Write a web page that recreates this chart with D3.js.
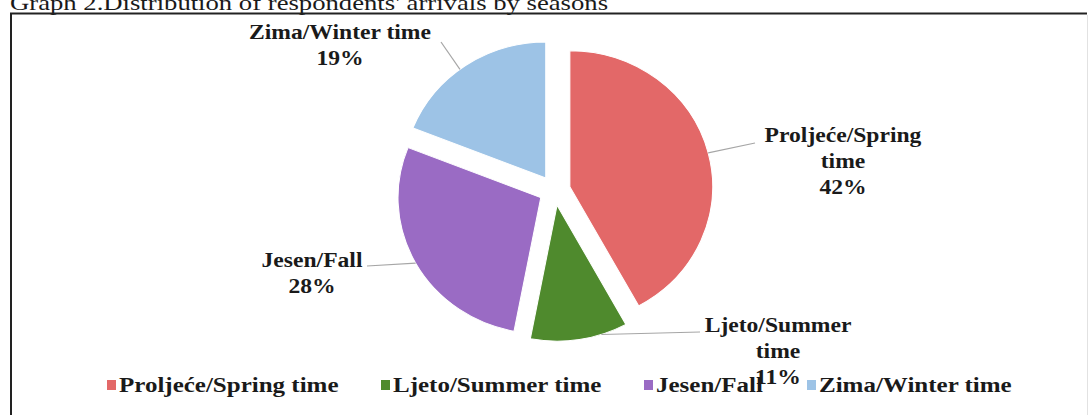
<!DOCTYPE html>
<html>
<head>
<meta charset="utf-8">
<script src="https://cdn.jsdelivr.net/npm/d3@7"></script>
<style>
  html, body { margin: 0; padding: 0; background: #fff; }
  svg { display: block; }
  text { font-family: "Liberation Serif", "Times New Roman", serif; fill: #1a1a1a; }
</style>
</head>
<body>
<svg id="chart" width="1089" height="415"></svg>
<script>
// Seasons of arrival and their share of respondents (%)
const categories = ["Proljeće/Spring time", "Ljeto/Summer time", "Jesen/Fall", "Zima/Winter time"];
const shares = [42, 11, 28, 19];
const labelNames = [["Proljeće/Spring", "time"], ["Ljeto/Summer", "time"], ["Jesen/Fall"], ["Zima/Winter time"]];
const colors = ["#e36868", "#4f8a2d", "#9a6bc4", "#9dc3e6"];
const titleText = "Graph 2.Distribution of respondents' arrivals by seasons";

const svg = d3.select("#chart");
const W = 1089, H = 415;
const STRETCH = 1.18;

// title above the framed chart area
svg.append("text")
  .attr("transform", `translate(10,10) scale(1.27,1)`)
  .style("font-size", "21px")
  .text(titleText);

// chart frame (right edge falls on the page margin and is faint)
svg.append("path")
  .attr("d", `M11,${H + 2} L11,13.5 L1087,13.5`)
  .attr("fill", "none")
  .attr("stroke", "#222")
  .attr("stroke-width", 2);
svg.append("line")
  .attr("x1", 1087.5).attr("y1", 15).attr("x2", 1087.5).attr("y2", H)
  .attr("stroke", "#e2e2e2").attr("stroke-width", 1);

// pie layout, first slice starting at 12 o'clock, clockwise; slightly wide
const cx = 554.6, cy = 190.4, R = 136, explode = 15, sx = 1.05;
const pie = d3.pie().sort(null).value(d => d).startAngle(0).endAngle(2 * Math.PI);
const arcs = pie(shares);
const arc = d3.arc().innerRadius(0).outerRadius(R);

const polar = (a, r) => [Math.sin(a) * r, -Math.cos(a) * r];

const g = svg.append("g").attr("transform", `translate(${cx},${cy}) scale(${sx},1)`);
const slices = g.selectAll("g.slice").data(arcs).join("g")
  .attr("class", "slice")
  .attr("transform", d => {
    const [dx, dy] = polar((d.startAngle + d.endAngle) / 2, explode);
    return `translate(${dx},${dy})`;
  });
slices.append("path")
  .attr("d", arc)
  .attr("fill", (d, i) => colors[i])
  .attr("stroke", "#fff")
  .attr("stroke-width", 1);

// data labels: where the leader line leaves each slice (fraction of its sweep)
// and where the text block sits
const leaderAt = [0.5, 0.27, 0.5, 0.46];
const labelPos = [
  { x: 843, y: 142, ax: 755, ay: 143 },
  { x: 778, y: 332, ax: 700, ay: 332 },
  { x: 312, y: 267, ax: 367, ay: 266 },
  { x: 340, y: 39,  ax: 441, ay: 42 }
];
const lineGap = 26;

arcs.forEach((d, i) => {
  const mid = (d.startAngle + d.endAngle) / 2;
  const [ox, oy] = polar(mid, explode);
  const a = d.startAngle + (d.endAngle - d.startAngle) * leaderAt[i];
  const [px, py] = polar(a, R);
  const p = labelPos[i];
  svg.append("line")
    .attr("x1", cx + sx * (ox + px)).attr("y1", cy + oy + py)
    .attr("x2", p.ax).attr("y2", p.ay)
    .attr("stroke", "#a6a6a6").attr("stroke-width", 1.2);

  const lines = labelNames[i].concat([`${shares[i]}%`]);
  lines.forEach((t, k) => {
    svg.append("text")
      .attr("transform", `translate(${p.x},${p.y + k * lineGap}) scale(${STRETCH},1)`)
      .attr("text-anchor", "middle")
      .style("font-size", "20px")
      .style("font-weight", "bold")
      .text(t);
  });
});

// legend along the bottom
const legendX = [107, 381, 644, 807];
const legendY = 385;
const lg = svg.append("g");
categories.forEach((c, i) => {
  lg.append("rect")
    .attr("x", legendX[i]).attr("y", legendY - 5)
    .attr("width", 9).attr("height", 10)
    .attr("fill", colors[i]);
  lg.append("text")
    .attr("transform", `translate(${legendX[i] + 12},${legendY + 7}) scale(1.25,1)`)
    .style("font-size", "20px")
    .style("font-weight", "bold")
    .text(c);
});
</script>
</body>
</html>
